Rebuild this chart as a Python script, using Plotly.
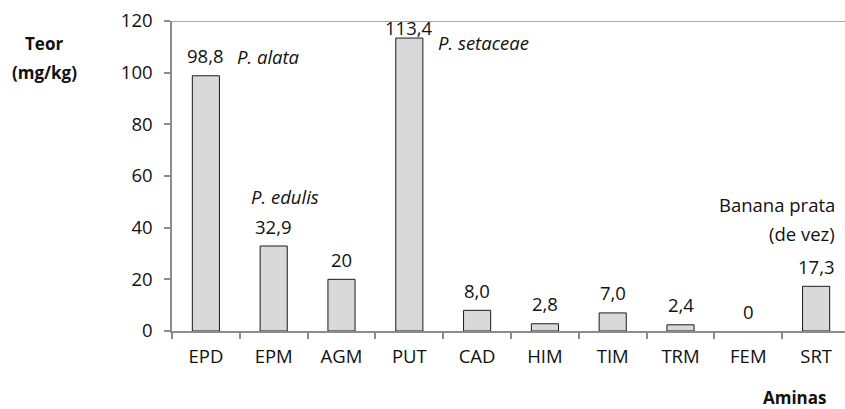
import plotly.graph_objects as go

# Aminas bioativas (mg/kg)
aminas = ["EPD", "EPM", "AGM", "PUT", "CAD", "HIM", "TIM", "TRM", "FEM", "SRT"]
teor = [98.8, 32.9, 20, 113.4, 8.0, 2.8, 7.0, 2.4, 0, 17.3]
rotulos = ["98,8", "32,9", "20", "113,4", "8,0", "2,8", "7,0", "2,4", "0", "17,3"]
y_ticks = [0, 20, 40, 60, 80, 100, 120]

FONT = "Open Sans"
FS = 18.5
AXIS_GRAY = "#8c8c8c"

fig = go.Figure()
fig.add_trace(go.Bar(
    x=aminas,
    y=teor,
    width=0.4,
    marker=dict(color="#d9d9d9",
                line=dict(color="#1a1a1a", width=[0 if v == 0 else 1 for v in teor])),
    hoverinfo="skip",
    showlegend=False,
))

annotations = []
# value labels above each bar
for cat, val, txt in zip(aminas, teor, rotulos):
    annotations.append(dict(
        x=cat, y=val, xref="x", yref="y", text=txt, showarrow=False,
        xanchor="center", yanchor="middle",
        yshift=11 if val > 110 else 20,
        font=dict(family=FONT, size=FS, color="#111"),
    ))

# species / sample notes
def note(text, x, y, xanchor="left", italic=True):
    annotations.append(dict(
        x=x, y=y, xref="paper", yref="y", text=f"<i>{text}</i>" if italic else text,
        showarrow=False, xanchor=xanchor, yanchor="middle",
        font=dict(family=FONT, size=FS, color="#111"),
    ))

note("P. alata", 0.0936, 106.1)
note("P. setaceae", 0.392, 111.5)
note("P. edulis", 0.1144, 51.9)
note("Banana prata", 0.988, 48.8, xanchor="right", italic=False)
note("(de vez)", 0.988, 37.9, xanchor="right", italic=False)

# axis titles
for text, x, y in [("Teor", -0.1895, 0.926), ("(mg/kg)", -0.1895, 0.835), ("Aminas", 0.926, -0.214)]:
    annotations.append(dict(
        x=x, y=y, xref="paper", yref="paper", text=f"<b>{text}</b>",
        showarrow=False, xanchor="center", yanchor="middle",
        font=dict(family=FONT, size=17, color="#111"),
    ))

fig.update_layout(
    width=845, height=409,
    margin=dict(l=172, r=0, t=21, b=78),
    paper_bgcolor="white", plot_bgcolor="white",
    font=dict(family=FONT, size=FS, color="#111"),
    annotations=annotations,
    shapes=[dict(type="line", xref="paper", yref="y", x0=0, x1=1, y0=120, y1=120,
                 line=dict(color=AXIS_GRAY, width=1.5))],
    bargap=0.6,
)

fig.update_xaxes(
    type="category",
    range=[-0.5, 9.426],
    showline=True, linecolor=AXIS_GRAY, linewidth=1.5,
    ticks="outside", tickson="boundaries", ticklen=6, tickcolor=AXIS_GRAY, tickwidth=1.5,
    showgrid=False, zeroline=False,
    ticklabelstandoff=8,
    tickfont=dict(family=FONT, size=FS, color="#111"),
)
fig.update_yaxes(
    range=[0, 120],
    tickvals=y_ticks,
    showline=True, linecolor=AXIS_GRAY, linewidth=1.5,
    ticks="outside", ticklen=6, tickcolor=AXIS_GRAY, tickwidth=1.5,
    showgrid=False, zeroline=False,
    ticklabelstandoff=8,
    tickfont=dict(family=FONT, size=FS, color="#111"),
)

fig.write_html("out.html")
